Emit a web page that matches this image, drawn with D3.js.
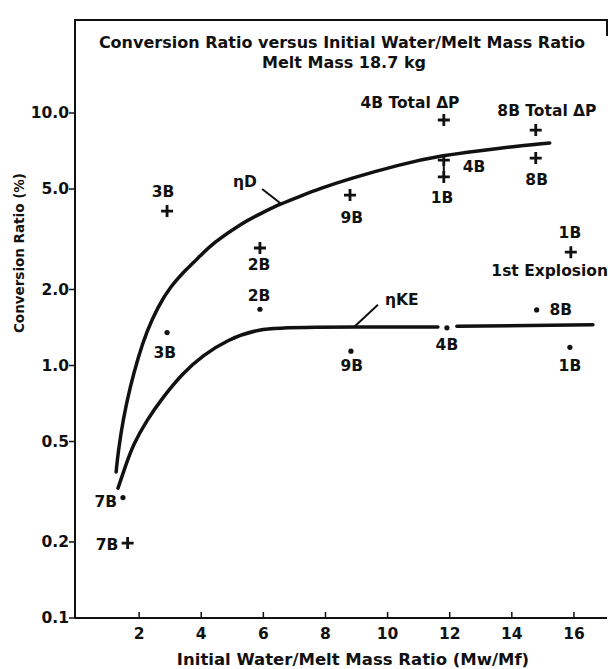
<!DOCTYPE html>
<html>
<head>
<meta charset="utf-8">
<script src="https://cdn.jsdelivr.net/npm/d3@7"></script>
<style>
    body { margin: 0; background: #fff; }
    svg text { font-family: 'DejaVu Sans', sans-serif; font-weight: bold; fill: #111; }
</style>
</head>
<body>
<svg id="chart" width="610" height="669"></svg>
<script>
// axis ticks
const xTicks = [2, 4, 6, 8, 10, 12, 14, 16];
const yTicks = [0.1, 0.2, 0.5, 1, 2, 5, 10];
const yTickLabels = ['0.1', '0.2', '0.5', '1.0', '2.0', '5.0', '10.0'];

// fitted curves [Mw/Mf, ratio %]
const etaD = [[1.26, 0.379], [1.32, 0.450], [1.48, 0.608], [1.71, 0.822], [1.96, 1.07], [2.25, 1.37],
    [2.61, 1.71], [3.00, 2.05], [3.54, 2.42], [3.96, 2.71], [4.38, 3.05], [5.31, 3.67], [5.96, 4.02],
    [6.54, 4.36], [7.18, 4.68], [7.82, 5.02], [8.79, 5.50], [10.40, 6.25], [11.68, 6.78], [13.61, 7.27],
    [15.22, 7.61]];
// null marks the break around the 4B point
const etaKE = [[1.32, 0.327], [1.55, 0.396], [1.80, 0.484], [2.25, 0.608], [2.77, 0.750], [3.41, 0.934],
    [4.06, 1.10], [4.83, 1.26], [5.80, 1.40], [7.18, 1.42], [11.62, 1.42], [11.9, null], [12.23, 1.43],
    [16.61, 1.45]];

// measured points: "+" for eta D, dot for eta KE
const plusX = [2.9, 5.89, 8.79, 11.81, 11.81, 11.81, 14.77, 14.77, 15.9, 1.63];
const plusY = [4.09, 2.92, 4.73, 9.38, 6.51, 5.58, 8.56, 6.63, 2.81, 0.198];
const dotX = [2.9, 5.89, 8.82, 11.91, 14.8, 15.87, 1.48];
const dotY = [1.35, 1.67, 1.14, 1.41, 1.66, 1.18, 0.30];

// 4B and 1B pluses are joined by a bar
const joined = [4, 5];

// point labels, placed in data space
const labelText = ['3B', '3B', '2B', '2B', '9B', '9B', '1B', '4B', '8B', '4B Total \u0394P', '8B Total \u0394P',
    '1B', '1st Explosion', '8B', '4B', '1B', '7B', '7B', '\u03b7D', '\u03b7KE'];
const labelX = [2.77, 2.83, 5.86, 5.86, 8.85, 8.85, 11.75, 12.78, 14.8, 10.72, 15.13,
    15.87, 15.22, 15.58, 11.91, 15.87, 0.93, 0.97, 5.41, 10.46];
const labelY = [4.87, 1.13, 2.50, 1.90, 3.87, 1.0, 4.61, 6.11, 5.43, 11.0, 10.2,
    3.35, 2.37, 1.66, 1.21, 1.0, 0.288, 0.195, 5.33, 1.82];

// leader lines for the curve names
const leaders = [[[5.96, 5.0], [6.54, 4.40]], [[9.69, 1.74], [8.92, 1.42]]];

const svg = d3.select('#chart');
const ink = '#111';

const x = d3.scaleLinear().domain([0, 17]).range([77, 605]);
const y = d3.scaleLog().domain([0.1, 10]).range([618, 113]);
const axisX = 75;
const frameTop = 20;

// frame
svg.append('path')
    .attr('d', `M${axisX},${y(0.1)}V${frameTop}H607V36`)
    .attr('fill', 'none')
    .attr('stroke', ink)
    .attr('stroke-width', 2);

svg.append('line')
    .attr('x1', axisX).attr('x2', 607)
    .attr('y1', y(0.1)).attr('y2', y(0.1))
    .attr('stroke', ink)
    .attr('stroke-width', 2);

// y ticks, outward
const yAxis = svg.append('g');
yAxis.selectAll('line')
    .data(yTicks)
    .enter()
    .append('line')
    .attr('x1', axisX - 6).attr('x2', axisX)
    .attr('y1', d => y(d)).attr('y2', d => y(d))
    .attr('stroke', ink)
    .attr('stroke-width', 1.5);
yAxis.selectAll('text')
    .data(yTicks)
    .enter()
    .append('text')
    .attr('x', axisX - 6)
    .attr('y', d => y(d))
    .attr('dy', '0.35em')
    .attr('text-anchor', 'end')
    .style('font-size', '15.5px')
    .text((d, i) => yTickLabels[i]);

// x ticks, inward
const xAxis = svg.append('g');
xAxis.selectAll('line')
    .data(xTicks)
    .enter()
    .append('line')
    .attr('x1', d => x(d)).attr('x2', d => x(d))
    .attr('y1', y(0.1)).attr('y2', y(0.1) - 6)
    .attr('stroke', ink)
    .attr('stroke-width', 1.5);
xAxis.selectAll('text')
    .data(xTicks)
    .enter()
    .append('text')
    .attr('x', d => x(d))
    .attr('y', y(0.1) + 16)
    .attr('dy', '0.35em')
    .attr('text-anchor', 'middle')
    .style('font-size', '15.5px')
    .text(d => d);

// titles
svg.append('text')
    .attr('x', 342).attr('y', 48)
    .attr('text-anchor', 'middle')
    .style('font-size', '16px')
    .text('Conversion Ratio versus Initial Water/Melt Mass Ratio');
svg.append('text')
    .attr('x', 344).attr('y', 68)
    .attr('text-anchor', 'middle')
    .style('font-size', '16px')
    .text('Melt Mass 18.7 kg');
svg.append('text')
    .attr('x', 353).attr('y', 665)
    .attr('text-anchor', 'middle')
    .style('font-size', '16.5px')
    .text('Initial Water/Melt Mass Ratio (Mw/Mf)');
svg.append('text')
    .attr('transform', 'rotate(-90)')
    .attr('x', -253).attr('y', 24)
    .attr('text-anchor', 'middle')
    .style('font-size', '13.5px')
    .text('Conversion Ratio (%)');

// curves
const line = d3.line()
    .defined(d => d[1] !== null)
    .x(d => x(d[0]))
    .y(d => y(d[1]))
    .curve(d3.curveBasis);

svg.selectAll('path.curve')
    .data([etaD, etaKE])
    .enter()
    .append('path')
    .attr('class', 'curve')
    .attr('d', line)
    .attr('fill', 'none')
    .attr('stroke', ink)
    .attr('stroke-width', 3.5)
    .attr('stroke-linecap', 'round');

svg.selectAll('line.leader')
    .data(leaders)
    .enter()
    .append('line')
    .attr('class', 'leader')
    .attr('x1', d => x(d[0][0])).attr('y1', d => y(d[0][1]))
    .attr('x2', d => x(d[1][0])).attr('y2', d => y(d[1][1]))
    .attr('stroke', ink)
    .attr('stroke-width', 2);

// bar joining the 4B / 1B pair
svg.append('line')
    .attr('x1', x(plusX[joined[0]])).attr('x2', x(plusX[joined[1]]))
    .attr('y1', y(plusY[joined[0]])).attr('y2', y(plusY[joined[1]]))
    .attr('stroke', ink)
    .attr('stroke-width', 2);

// "+" markers
svg.selectAll('path.plus')
    .data(plusX)
    .enter()
    .append('path')
    .attr('class', 'plus')
    .attr('d', (d, i) => `M${x(d) - 6},${y(plusY[i])}h12M${x(d)},${y(plusY[i]) - 6}v12`)
    .attr('stroke', ink)
    .attr('stroke-width', 2.8);

// dot markers
svg.selectAll('circle.dot')
    .data(dotX)
    .enter()
    .append('circle')
    .attr('class', 'dot')
    .attr('cx', d => x(d))
    .attr('cy', (d, i) => y(dotY[i]))
    .attr('r', 2.6)
    .attr('fill', ink);

// labels
svg.selectAll('text.lbl')
    .data(labelText)
    .enter()
    .append('text')
    .attr('class', 'lbl')
    .attr('x', (d, i) => x(labelX[i]))
    .attr('y', (d, i) => y(labelY[i]))
    .attr('dy', '0.35em')
    .attr('text-anchor', 'middle')
    .style('font-size', '15.5px')
    .text(d => d);
</script>
</body>
</html>
